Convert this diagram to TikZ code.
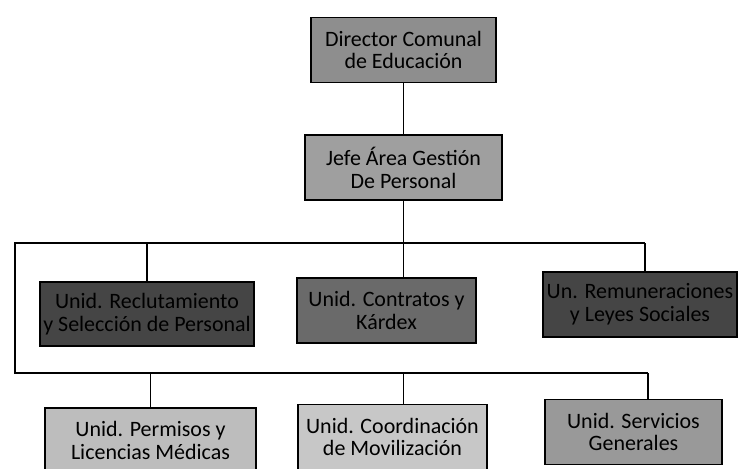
\documentclass[tikz,border=0pt]{standalone}
\usepackage{fontspec}
\setmainfont{Carlito}
\usetikzlibrary{positioning}

\definecolor{midgray}{HTML}{8E8E8E}
\definecolor{darkgray}{HTML}{454545}
\definecolor{lightgray}{HTML}{BDBDBD}

\begin{document}
\begin{tikzpicture}[
                unit/.style={draw, line width=0.9pt, minimum height=1.3cm, align=center,
                    font=\fontsize{12.5}{13}\selectfont, inner sep=2pt},
                conn/.style={line width=0.8pt},
                node distance=0.8cm
            ]

            \useasboundingbox (0,0) rectangle (14.86,9.38);

            \node[unit, fill=midgray, minimum width=3.7cm] (dir) at (8.07,8.38) {Director Comunal\\de Educación};

            \node[unit, fill=midgray!85, minimum width=3.94cm] (jefe) at (8.07,6.03) {Jefe Área Gestión\\De Personal};

            \node[unit, fill=darkgray, minimum width=4.2cm, minimum height=1.28cm] (recl) at (2.94,3.10) {Unid. Reclutamiento\\y Selección de Personal};

            \node[unit, fill=darkgray!80, minimum width=3.58cm] (contr) at (7.73,3.17) {Unid. Contratos y\\Kárdex};

            \node[unit, fill=darkgray, minimum width=3.88cm] (remun) at (12.8,3.29) {Un. Remuneraciones\\y Leyes Sociales};

            \node[unit, fill=lightgray, minimum width=4.22cm] (perm) at (3.01,0.57) {Unid. Permisos y\\Licencias Médicas};

            \node[unit, fill=lightgray!85, minimum width=3.78cm] (coord) at (7.85,0.64) {Unid. Coordinación\\de Movilización};

            \node[unit, fill=midgray!90, minimum width=3.54cm] (serv) at (12.67,0.74) {Unid. Servicios\\Generales};

            % bus lines
            \coordinate (topL) at (0.3,4.52);
            \coordinate (topR) at (12.9,4.52);
            \coordinate (botL) at (0.3,1.92);
            \coordinate (botR) at (12.96,1.92);

            \draw[conn] (dir) -- (jefe);
            \draw[conn] (jefe.south) -- (jefe.south |- topL);
            \draw[conn] (topR) -- (topL) -- (botL) -- (botR);

            \draw[conn] (recl.north) -- (recl.north |- topL);
            \draw[conn] (jefe.south |- contr.north) -- (jefe.south |- topL);
            \draw[conn] (topR |- remun.north) -- (topR);

            \draw[conn] (perm.north) -- (perm.north |- botL);
            \draw[conn] (jefe.south |- coord.north) -- (jefe.south |- botL);
            \draw[conn] (botR |- serv.north) -- (botR);

        \end{tikzpicture}
\end{document}
